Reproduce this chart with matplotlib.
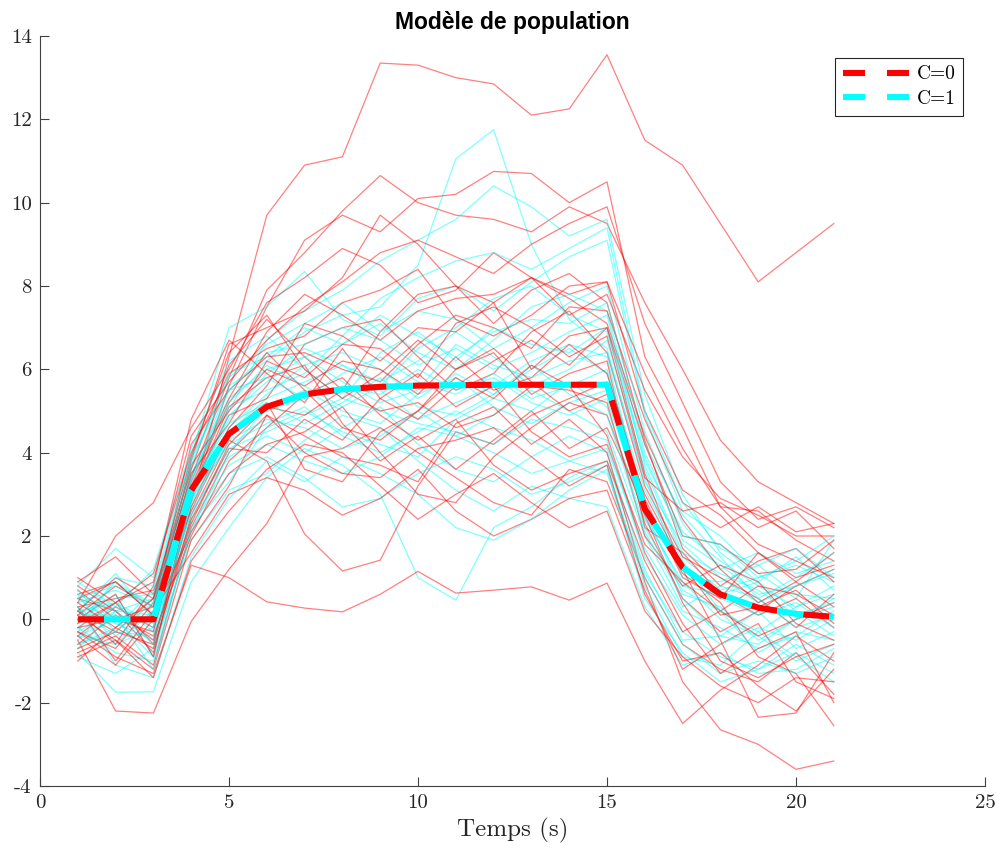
"""
Modèle de population : trajectoires individuelles et courbe moyenne
"""
import matplotlib
matplotlib.use('Agg')
import matplotlib.pyplot as plt
from matplotlib.lines import Line2D
from matplotlib import font_manager
import numpy as np

plt.rcParams['font.family'] = ['cmr10', 'DejaVu Serif']
plt.rcParams['axes.unicode_minus'] = False
plt.rcParams['axes.formatter.use_mathtext'] = False

# temps d'observation
temps = list(range(1, 22))

# courbe moyenne du modèle (identique pour C=0 et C=1)
moyenne = [0.0, 0.0, 0.0, 3.1, 4.45, 5.1, 5.4, 5.52, 5.58, 5.61, 5.62,
           5.63, 5.63, 5.63, 5.63, 2.65, 1.25, 0.6, 0.28, 0.13, 0.06]

# trajectoires individuelles, groupe C=0
traj_c0 = [
    [0.3, 0.5, 0.7, 2.8, 6.3, 9.7, 10.9, 11.1, 13.35, 13.3, 13.0, 12.85, 12.1, 12.25, 13.55, 11.5, 10.9, 9.5, 8.1, 8.8, 9.5],
    [0.2, -0.3, 0.5, 3.4, 5.8, 7.9, 8.8, 9.8, 10.65, 10.0, 9.7, 9.6, 9.3, 9.9, 9.5, 7.6, 6.0, 4.3, 3.3, 2.8, 2.3],
    [-0.2, 0.4, -0.6, 2.9, 5.6, 7.5, 9.1, 9.7, 9.3, 10.1, 10.2, 10.75, 10.7, 10.0, 10.5, 6.3, 4.6, 2.7, 2.6, 1.9, 1.4],
    [0.6, 0.9, 0.1, 3.8, 6.6, 7.0, 7.4, 8.2, 9.7, 9.0, 8.0, 7.6, 8.2, 7.8, 8.1, 5.0, 3.1, 2.5, 1.6, 0.9, 0.3],
    [-0.5, -2.2, -2.25, -0.05, 1.2, 2.3, 3.9, 4.1, 4.6, 4.0, 3.4, 2.8, 2.5, 3.6, 3.3, 1.0, -0.6, -1.2, -1.5, -0.8, -1.8],
    [-0.3, -0.9, -1.3, 1.3, 1.0, 0.42, 0.27, 0.18, 0.6, 1.15, 0.63, 0.7, 0.78, 0.46, 0.87, -1.0, -2.5, -1.7, -1.1, -0.4, -1.0],
    [0.5, 0.2, -0.8, 2.5, 4.3, 3.8, 2.05, 1.16, 1.42, 3.2, 4.5, 4.2, 4.9, 5.3, 5.7, 2.3, 0.5, -0.3, 0.2, 0.8, 1.2],
    [0.1, 0.8, 0.3, 4.2, 5.5, 6.3, 6.4, 6.0, 5.7, 6.6, 7.3, 7.0, 6.5, 7.5, 7.4, 4.8, 2.8, 2.2, 2.7, 2.1, 2.3],
    [-0.8, -0.4, -1.1, 2.2, 4.0, 4.9, 4.4, 3.9, 3.7, 3.3, 4.7, 5.1, 4.2, 4.8, 4.0, 0.9, -1.5, -2.65, -3.0, -3.6, -3.4],
    [0.9, 1.5, 0.6, 3.6, 6.1, 7.2, 6.3, 5.5, 6.9, 7.8, 8.0, 7.1, 7.9, 8.3, 7.6, 4.3, 1.7, 0.8, 1.4, 1.7, 0.9],
    [0.2, -0.6, 0.8, 4.8, 6.7, 5.9, 5.2, 6.5, 5.3, 4.8, 5.6, 6.2, 6.7, 6.1, 7.0, 3.5, 1.2, -0.5, -2.35, -2.25, -0.8],
    [-0.4, 0.3, -0.2, 3.0, 5.1, 5.8, 6.1, 4.7, 3.8, 4.4, 3.6, 4.3, 5.0, 4.1, 4.6, 2.7, 1.1, 0.4, -0.9, -1.3, -2.55],
    [0.4, 2.0, 2.8, 4.6, 6.0, 7.6, 8.2, 8.9, 8.5, 7.6, 7.9, 8.8, 8.2, 7.3, 7.8, 5.5, 3.9, 2.9, 2.5, 2.0, 2.0],
    [-1.0, -0.2, 0.5, 2.6, 4.5, 5.2, 3.6, 3.3, 4.5, 5.0, 6.0, 6.4, 5.4, 5.9, 6.2, 2.2, 1.6, 0.6, 0.1, 0.5, -0.2],
    [0.7, 0.0, -0.3, 3.3, 5.3, 6.9, 7.8, 7.3, 6.7, 7.4, 7.7, 7.8, 8.2, 7.7, 7.1, 4.4, 2.4, 1.2, 0.4, 0.9, 1.6],
    [-0.6, 0.1, -0.4, 2.0, 3.8, 4.6, 5.4, 5.8, 4.9, 4.3, 4.8, 3.7, 3.1, 3.5, 3.8, 1.4, -0.3, 0.2, 0.8, 0.6, 0.1],
    [0.0, 0.6, -0.9, 3.1, 4.9, 5.3, 6.6, 7.0, 7.2, 6.3, 5.5, 5.9, 6.9, 7.4, 6.4, 3.2, 1.5, 1.0, 0.5, -0.2, 0.6],
    [0.3, -1.0, 0.2, 1.6, 3.0, 3.4, 3.1, 2.5, 2.9, 3.6, 2.6, 2.0, 2.4, 2.9, 3.1, 0.7, -1.2, -0.6, -0.1, -1.5, -1.9],
    [-0.1, 0.4, 1.1, 4.0, 5.9, 6.5, 6.8, 7.6, 7.9, 8.4, 7.2, 6.8, 7.3, 8.0, 8.1, 5.9, 4.1, 2.7, 1.8, 1.4, 1.0],
    [0.8, 0.2, -0.5, 2.4, 4.1, 4.0, 4.8, 4.3, 5.3, 5.9, 5.1, 5.6, 4.5, 3.9, 4.2, 1.8, 0.9, 0.2, -0.4, 0.0, 0.4],
    [-0.3, -0.7, 0.4, 3.7, 5.0, 6.0, 5.6, 6.2, 6.0, 5.4, 6.3, 5.5, 5.8, 6.6, 5.9, 2.9, 1.0, 0.5, 1.6, 1.0, 1.3],
    [0.5, 0.9, 0.1, 2.1, 3.5, 4.2, 4.5, 5.1, 4.0, 3.0, 2.8, 3.9, 4.6, 5.2, 4.9, 2.5, 0.4, -1.0, -1.4, -0.9, -0.6],
    [-0.7, -0.3, -0.6, 2.7, 4.6, 5.6, 7.1, 6.8, 6.2, 7.0, 6.9, 7.6, 6.0, 6.8, 7.0, 4.2, 2.0, 1.8, 1.1, 1.2, 1.9],
    [0.1, -0.5, -1.2, 1.9, 3.2, 4.9, 4.0, 3.5, 3.4, 4.1, 4.3, 4.6, 3.9, 3.2, 3.7, 0.6, -1.0, -0.8, -1.6, -2.2, -1.2],
    [0.2, 1.0, 0.5, 3.9, 6.4, 7.3, 6.0, 5.3, 5.9, 6.7, 6.0, 6.5, 5.7, 5.0, 5.4, 3.0, 1.3, 0.1, 0.3, 0.7, -0.1],
    [-0.2, 0.0, 0.3, 3.5, 4.7, 6.2, 5.8, 6.6, 6.5, 5.8, 7.1, 7.5, 7.0, 6.3, 6.8, 3.4, 2.6, 2.8, 2.2, 2.6, 1.7],
    [0.4, -0.2, -0.7, 2.3, 4.2, 5.1, 4.9, 5.5, 5.0, 5.2, 4.6, 4.9, 5.6, 5.5, 5.2, 2.0, 0.8, 1.3, 0.9, -0.1, -0.5],
    [-0.4, -1.1, 0.0, 3.2, 5.2, 6.4, 5.5, 4.6, 4.3, 5.0, 5.8, 5.3, 6.1, 5.6, 4.4, 1.6, -0.1, -1.3, -0.7, -0.3, -2.0],
    [1.0, 0.4, 0.9, 4.4, 5.7, 6.7, 7.5, 8.1, 8.8, 9.1, 8.7, 8.3, 9.0, 9.5, 9.9, 7.1, 5.2, 3.3, 2.4, 2.7, 2.2],
    [-0.9, -0.5, -1.4, 1.4, 2.6, 3.6, 4.2, 4.0, 3.2, 2.4, 3.0, 3.5, 2.8, 2.2, 2.6, 0.2, -0.9, -1.6, -2.0, -1.4, -1.5],
]

# trajectoires individuelles, groupe C=1
traj_c1 = [
    [0.3, -0.4, 0.2, 3.4, 5.6, 6.2, 6.9, 7.3, 7.5, 8.5, 11.05, 11.75, 9.0, 7.2, 6.5, 3.3, 1.8, 1.0, 0.4, 0.8, 1.1],
    [-0.5, 0.4, -0.3, 2.8, 5.0, 6.7, 7.4, 7.9, 8.6, 9.1, 9.6, 10.4, 9.9, 9.2, 9.6, 5.4, 3.0, 1.6, 0.9, 1.5, 0.7],
    [0.8, 1.7, 1.0, 3.9, 7.0, 7.5, 8.35, 7.2, 6.8, 7.7, 8.0, 7.4, 8.1, 8.7, 9.1, 4.9, 2.6, 2.0, 1.1, 0.5, 1.9],
    [-0.8, -1.75, -1.74, 0.9, 2.2, 3.4, 4.1, 3.7, 3.0, 1.0, 0.46, 2.2, 2.7, 3.4, 3.8, 1.1, -0.3, -0.9, -1.2, -0.6, -1.1],
    [0.1, 0.6, -0.9, 3.0, 4.5, 5.3, 5.7, 6.1, 5.5, 4.8, 5.2, 5.6, 6.2, 6.6, 6.3, 2.6, 0.6, 0.3, -0.5, 0.0, 0.3],
    [-0.3, 0.2, 0.5, 3.6, 5.3, 6.0, 6.3, 6.6, 7.1, 6.4, 6.0, 6.7, 7.5, 7.8, 7.4, 4.0, 2.1, 1.4, 0.8, 0.3, 0.6],
    [0.5, -0.1, -0.5, 2.6, 3.9, 4.4, 4.0, 4.6, 5.1, 4.2, 3.6, 3.3, 3.9, 4.4, 4.0, 1.2, -0.5, -0.4, 0.2, -0.7, -0.3],
    [-0.1, 0.9, 0.3, 3.2, 4.8, 5.9, 6.5, 6.1, 5.7, 6.2, 6.9, 6.3, 5.6, 6.0, 6.7, 3.6, 1.5, 0.7, 1.0, 1.3, 0.9],
    [0.6, -0.6, -0.2, 2.3, 3.5, 3.9, 3.4, 2.7, 2.9, 3.5, 3.9, 3.6, 3.0, 3.3, 3.7, 0.8, -0.9, -1.1, -0.3, -0.9, -1.5],
    [-0.6, -0.2, 0.7, 3.8, 5.8, 6.6, 7.1, 7.6, 6.9, 7.4, 7.2, 6.5, 7.0, 7.6, 8.0, 4.5, 2.3, 1.2, 1.6, 1.1, 1.4],
    [0.2, 1.1, 0.0, 2.9, 4.2, 4.7, 5.1, 4.4, 4.0, 4.5, 5.0, 4.6, 4.3, 3.8, 4.1, 1.7, 0.2, -0.2, -0.7, -0.4, 0.2],
    [-0.9, -1.3, -0.7, 1.9, 3.1, 3.5, 4.3, 4.9, 4.6, 3.8, 3.1, 2.6, 3.2, 2.9, 2.7, 0.3, -1.1, -0.8, -1.3, -1.2, -0.7],
    [0.9, 0.3, 1.2, 4.1, 6.2, 6.8, 6.0, 5.3, 6.4, 6.9, 6.2, 7.0, 6.6, 6.4, 7.0, 3.9, 1.9, 1.3, 0.6, 0.8, 1.2],
    [-0.2, -0.8, -1.0, 2.1, 4.0, 5.1, 5.5, 5.0, 4.7, 5.4, 5.8, 5.1, 4.7, 5.2, 5.5, 2.4, 0.9, 0.0, -0.4, -1.0, -0.6],
    [0.4, 0.7, 0.3, 3.5, 5.1, 5.5, 5.9, 6.8, 7.7, 8.2, 8.6, 8.8, 8.4, 8.9, 9.4, 5.0, 2.8, 1.7, 1.3, 0.6, 0.5],
    [-0.4, 0.0, -0.9, 2.4, 3.7, 4.2, 3.8, 3.5, 3.9, 4.6, 4.4, 4.0, 3.5, 3.8, 3.5, 1.0, -0.6, -1.3, -1.0, -1.3, -0.9],
    [0.0, 0.5, 0.6, 3.3, 5.5, 5.8, 5.3, 5.9, 6.3, 5.7, 5.4, 5.9, 5.3, 5.6, 6.0, 2.8, 1.2, 0.5, 0.1, 0.4, -0.2],
    [0.7, -0.3, -0.4, 2.7, 4.3, 4.8, 4.6, 4.1, 4.4, 5.0, 4.4, 4.9, 5.5, 5.0, 4.5, 2.0, 0.3, 0.8, 0.5, -0.2, 0.1],
    [-0.7, 0.2, 0.1, 3.0, 4.6, 5.4, 6.1, 6.4, 6.0, 5.3, 5.9, 5.4, 6.0, 6.5, 5.9, 3.1, 1.4, 0.2, -0.3, 0.3, 0.8],
    [0.3, -1.1, -1.4, 1.5, 2.9, 3.8, 3.3, 3.9, 3.5, 3.0, 2.2, 1.9, 2.4, 3.1, 3.6, 0.5, -0.8, -1.5, -1.2, -0.8, -1.3],
    [-0.1, 0.3, -0.2, 3.1, 4.9, 5.7, 6.3, 5.7, 5.2, 5.5, 6.6, 6.1, 5.8, 6.2, 6.4, 3.4, 1.0, 0.9, 1.3, 1.7, 1.0],
    [0.5, 0.8, 0.4, 3.7, 5.9, 6.3, 7.0, 6.6, 7.3, 6.8, 6.3, 6.9, 7.2, 7.1, 7.6, 4.2, 2.5, 1.5, 0.5, 1.0, 1.6],
    [-0.4, -0.6, 0.2, 2.5, 4.1, 4.5, 4.9, 5.3, 5.0, 4.7, 4.5, 4.2, 4.8, 4.6, 4.3, 1.5, 0.1, -0.6, -0.2, -0.5, 0.0],
    [0.1, 0.1, -1.2, 2.2, 3.3, 4.6, 5.0, 4.5, 4.2, 3.9, 4.8, 5.3, 5.0, 5.7, 5.1, 2.2, 0.7, 0.2, -0.8, -0.3, -0.5],
    [-0.3, 1.0, 0.8, 3.9, 5.5, 6.4, 6.6, 7.0, 6.7, 6.1, 6.5, 6.0, 6.4, 6.9, 7.3, 3.7, 1.6, 1.1, 0.7, 0.1, 0.4],
    [0.6, 0.2, -0.6, 2.8, 4.4, 5.0, 5.3, 5.6, 5.4, 6.0, 5.5, 5.8, 5.2, 4.9, 5.3, 2.5, 0.8, 0.6, 0.9, 0.2, -0.4],
    [-0.6, -0.3, 0.4, 3.2, 4.7, 5.2, 4.7, 5.2, 5.8, 5.1, 4.9, 5.4, 6.1, 5.4, 4.9, 2.1, 0.5, -0.4, -0.6, 0.0, 0.5],
    [0.2, 0.4, -0.1, 3.4, 5.2, 6.1, 5.6, 5.1, 5.6, 6.5, 7.0, 7.7, 8.0, 7.3, 6.9, 3.8, 2.0, 1.8, 1.0, 1.4, 2.0],
]

fig = plt.figure(figsize=(9.98, 8.59), dpi=100)
ax = fig.add_axes([40 / 998, 73 / 859, 945 / 998, 750 / 859])

# trajectoires (fines, semi-transparentes), groupes entrelacés
n = max(len(traj_c0), len(traj_c1))
for i in range(n):
    if i < len(traj_c0):
        ax.plot(temps, traj_c0[i], color='red', lw=0.9, alpha=0.5)
    if i < len(traj_c1):
        ax.plot(temps, traj_c1[i], color='cyan', lw=0.9, alpha=0.5)

# courbes moyennes en tirets alternés
lw_moy = 4.4
ax.plot(temps, moyenne, color='red', lw=lw_moy, linestyle=(0, (4.3, 4.3)),
        dash_capstyle='butt')
ax.plot(temps, moyenne, color='cyan', lw=lw_moy, linestyle=(4.3, (4.3, 4.3)),
        dash_capstyle='butt')

ax.set_xlim(0, 25)
ax.set_ylim(-4, 14)
ax.set_xticks(np.arange(0, 26, 5))
ax.set_yticks(np.arange(-4, 15, 2))
ax.set_xticklabels([str(v) for v in range(0, 26, 5)])
ax.set_yticklabels([str(v) for v in range(-4, 15, 2)])

for s in ['top', 'right']:
    ax.spines[s].set_visible(False)
for s in ['left', 'bottom']:
    ax.spines[s].set_color('#404040')
    ax.spines[s].set_linewidth(0.8)
ax.tick_params(direction='in', length=6.5, width=0.8, color='#404040',
               labelsize=15, labelcolor='#262626', pad=6)

ax.set_xlabel('Temps (s)', fontsize=18, color='#262626', labelpad=4)

# titre en sans-serif gras, largeur normale (pas la variante « Narrow »)
police_titre = font_manager.FontProperties(family='Liberation Sans', weight='bold',
                                           stretch='normal', size=16.5)
ax.set_title('Modèle de population', fontproperties=police_titre, pad=5)

handles = [
    Line2D([0], [0], color='red', lw=lw_moy, linestyle=(0, (3.6, 3.6)), dash_capstyle='butt'),
    Line2D([0], [0], color='cyan', lw=lw_moy, linestyle=(0, (3.6, 3.6)), dash_capstyle='butt'),
]
leg = ax.legend(handles, ['C=0', 'C=1'], loc='upper right',
                bbox_to_anchor=(0.977, 0.971), fontsize=14, handlelength=3.5,
                handletextpad=0.3, fancybox=False, framealpha=1,
                borderpad=0.4, labelspacing=0.35, borderaxespad=0)
leg.get_frame().set_edgecolor('#262626')
leg.get_frame().set_linewidth(0.8)

fig.savefig('out.png', dpi=100)
